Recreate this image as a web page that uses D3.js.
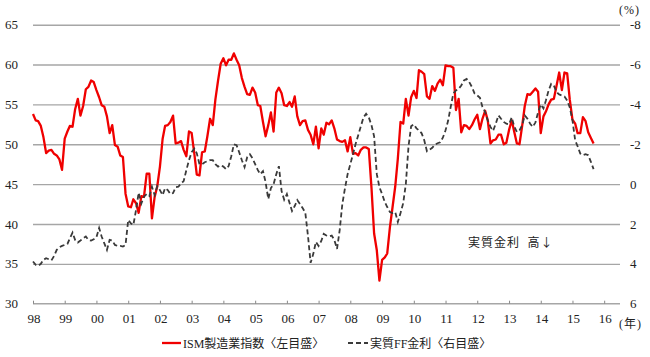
<!DOCTYPE html>
<html>
<head>
<meta charset="utf-8">
<script src="https://cdn.jsdelivr.net/npm/d3@7"></script>
<style>
  html, body { margin: 0; padding: 0; background: #fff; }
  svg { display: block; }
</style>
</head>
<body>
<svg id="chart" width="650" height="357"></svg>
<script>
// ---- data (monthly, Jan 1998 – Sep 2015) ----
const startYear = 1998;
const ismValues = [
  // 1998
  53.8, 53.0, 52.9, 52.3, 50.9, 48.9, 49.2, 49.3, 48.8, 48.6, 48.1, 46.8,
  // 1999
  50.7, 51.6, 52.3, 52.2, 54.4, 55.7, 53.6, 54.8, 56.9, 57.2, 58.0, 57.8,
  // 2000
  56.8, 55.9, 54.9, 54.7, 53.5, 51.4, 52.4, 49.9, 49.7, 48.6, 48.4, 43.8,
  // 2001
  42.2, 42.1, 43.1, 42.6, 41.4, 43.5, 43.4, 46.3, 46.3, 40.7, 43.4, 44.7,
  // 2002
  47.2, 50.7, 52.3, 52.4, 52.8, 53.6, 50.1, 50.2, 50.4, 49.3, 48.5, 51.6,
  // 2003
  51.4, 48.8, 46.2, 46.1, 49.0, 49.1, 51.0, 53.2, 52.4, 55.6, 58.0, 60.1,
  // 2004
  60.8, 59.9, 60.6, 60.6, 61.4, 60.6, 59.9, 58.3, 57.2, 56.3, 56.2, 57.1,
  // 2005
  56.5, 54.9, 54.8, 52.8, 51.0, 52.4, 54.0, 51.6, 56.5, 57.1, 56.4, 54.9,
  // 2006
  54.8, 55.3, 54.7, 56.0, 53.5, 52.4, 52.9, 53.0, 51.8, 51.2, 50.0, 52.2,
  // 2007
  49.5, 52.0, 51.2, 52.7, 52.5, 53.0, 52.0, 50.6, 50.4, 50.3, 50.5, 49.1,
  // 2008
  50.9, 48.8, 48.9, 48.6, 49.3, 49.6, 49.6, 49.4, 44.5, 38.8, 36.7, 32.9,
  // 2009
  35.5, 35.8, 36.3, 39.6, 42.1, 44.7, 48.2, 52.8, 52.6, 55.7, 53.6, 55.9,
  // 2010
  56.7, 55.8, 59.3, 59.1, 58.8, 56.0, 55.7, 57.3, 56.7, 57.6, 58.1, 57.4,
  // 2011
  59.9, 59.8, 59.8, 59.6, 54.3, 55.7, 51.5, 52.4, 52.3, 51.9, 52.4, 53.1,
  // 2012
  53.7, 51.9, 53.2, 54.2, 53.0, 50.1, 50.5, 50.6, 51.2, 51.2, 50.0, 50.2,
  // 2013
  51.8, 53.0, 51.6, 50.1, 50.0, 52.3, 54.8, 56.3, 56.2, 56.6, 57.0, 56.6,
  // 2014
  51.4, 53.5, 54.1, 55.0, 55.6, 55.7, 57.3, 59.0, 56.8, 59.0, 58.9, 55.6,
  // 2015
  53.1, 52.6, 51.4, 51.4, 53.4, 52.9, 51.5, 50.8, 50.1
];
const realFFValues = [
  // 1998
  3.88, 4.05, 4.10, 4.00, 3.80, 3.72, 3.77, 3.83, 3.60, 3.30, 3.17, 3.10,
  // 1999
  3.05, 3.00, 2.72, 2.43, 2.80, 2.93, 2.83, 2.72, 2.63, 2.80, 2.83, 2.77,
  // 2000
  2.67, 2.20, 2.63, 2.97, 3.30, 2.80, 2.83, 3.05, 3.10, 3.10, 3.13, 3.05,
  // 2001
  1.80, 1.97, 2.05, 1.30, 0.43, 0.97, 0.63, 0.50, 0.60, 0.13, 0.55, 0.10,
  // 2002
  0.30, 0.55, 0.20, 0.30, 0.50, 0.45, 0.15, 0.13, -0.03, -0.15, -0.70, -1.20,
  // 2003
  -1.60, -1.78, -1.55, -1.00, -1.00, -1.10, -1.15, -1.20, -1.20, -1.00, -0.88, -0.95,
  // 2004
  -0.88, -0.75, -0.90, -1.40, -2.00, -1.95, -1.60, -1.20, -0.85, -1.35, -1.50, -1.30,
  // 2005
  -1.00, -0.70, -0.50, -0.65, -0.10, 0.75, 0.20, 0.00, -0.50, -0.90, 0.35, 0.78,
  // 2006
  0.50, 0.95, 1.35, 1.10, 0.80, 1.00, 1.20, 1.43, 2.60, 3.95, 3.50, 2.90,
  // 2007
  3.10, 2.85, 2.50, 2.58, 2.62, 2.58, 2.80, 3.25, 2.30, 1.00, 0.20, -0.50,
  // 2008
  -1.00, -1.50, -2.00, -2.45, -2.90, -3.35, -3.53, -3.35, -2.95, -2.40, -0.50, 0.15,
  // 2009
  0.50, 0.90, 1.15, 1.40, 1.45, 1.40, 1.90, 1.45, 0.95, 0.00, -1.90, -2.90,
  // 2010
  -3.00, -2.80, -2.70, -2.55, -2.20, -1.65, -1.73, -1.82, -1.98, -2.05, -2.10, -2.33,
  // 2011
  -2.70, -3.20, -3.87, -4.55, -4.70, -4.78, -4.95, -5.20, -5.28, -5.12, -4.87, -4.55,
  // 2012
  -4.45, -4.33, -3.87, -3.62, -3.20, -2.87, -2.67, -3.03, -3.45, -3.28, -3.12, -3.03,
  // 2013
  -3.00, -3.35, -2.90, -2.62, -2.70, -2.95, -3.45, -3.28, -3.03, -2.87, -3.10, -3.60,
  // 2014
  -4.00, -3.80, -4.20, -4.70, -5.03, -4.95, -4.62, -4.50, -4.45, -4.40, -4.20, -3.85,
  // 2015
  -3.20, -2.20, -1.90, -1.53, -1.45, -1.50, -1.45, -1.12, -0.75
];
const yearLabels = ["98","99","00","01","02","03","04","05","06","07","08","09","10","11","12","13","14","15","16"];
const leftTicks = [30, 35, 40, 45, 50, 55, 60, 65];
const rightTicks = [6, 4, 2, 0, -2, -4, -6, -8];
const legendLabels = ["ISM製造業指数〈左目盛〉", "実質FF金利〈右目盛〉"];
const annotationText = "実質金利  高↓";

// ---- layout ----
const svg = d3.select("#chart");
const plotLeft = 33, plotRight = 620, plotTop = 24.7, plotBottom = 303.7;
const latinFont = "'Liberation Serif', 'Times New Roman', serif";
const cjkFont = "'Liberation Serif', 'Noto Sans CJK JP', sans-serif";

const x = d3.scaleTime()
  .domain([new Date(startYear, 0, 1), new Date(2016, 6, 1)])
  .range([plotLeft, plotRight]);
const yL = d3.scaleLinear().domain([30, 65]).range([plotBottom, plotTop]);
const yR = d3.scaleLinear().domain([6, -8]).range([plotBottom, plotTop]);

const ismData = ismValues.map((v, i) => ({ date: d3.timeMonth.offset(new Date(startYear, 0, 1), i), v }));
const ffData = realFFValues.map((v, i) => ({ date: d3.timeMonth.offset(new Date(startYear, 0, 1), i), v }));
const yearDates = yearLabels.map((s, i) => new Date(startYear + i, 0, 1));

// gridlines (left axis)
svg.append("g")
  .attr("transform", `translate(${plotLeft},0)`)
  .call(d3.axisLeft(yL).tickValues(leftTicks.filter(t => t !== 30)).tickSize(-(plotRight - plotLeft)).tickFormat(""))
  .call(g => g.select(".domain").remove())
  .call(g => g.selectAll("line").attr("stroke", "#a6a6a6").attr("stroke-width", 1.4));

// left labels
svg.append("g").selectAll("text").data(leftTicks).join("text")
  .attr("x", 18).attr("y", d => yL(d)).attr("dy", "0.35em")
  .attr("text-anchor", "end")
  .attr("font-family", latinFont).attr("font-size", 13).attr("fill", "#222")
  .text(d => d);

// right labels
svg.append("g").selectAll("text").data(rightTicks).join("text")
  .attr("x", 630).attr("y", d => yR(d)).attr("dy", "0.35em")
  .attr("text-anchor", "start")
  .attr("font-family", latinFont).attr("font-size", 13).attr("fill", "#222")
  .text(d => String(d));

// bottom axis
const xAxis = svg.append("g")
  .attr("transform", `translate(0,${plotBottom})`)
  .call(d3.axisTop(x).tickValues(yearDates).tickSize(3).tickFormat(""));
xAxis.select(".domain").attr("stroke", "#a6a6a6").attr("stroke-width", 1.4)
  .attr("d", `M${plotLeft},0H${plotRight}`);
xAxis.selectAll(".tick line").attr("stroke", "#888").attr("stroke-width", 1);

svg.append("g").selectAll("text").data(yearLabels).join("text")
  .attr("x", (d, i) => x(yearDates[i]) + 1).attr("y", 323)
  .attr("text-anchor", "middle")
  .attr("font-family", latinFont).attr("font-size", 13).attr("fill", "#222")
  .text(d => d);

// unit labels
svg.append("text").attr("x", 619).attr("y", 14)
  .attr("font-family", cjkFont).attr("font-size", 12).attr("fill", "#222")
  .attr("letter-spacing", 1)
  .text("(%)");
svg.append("text").attr("x", 619).attr("y", 328)
  .attr("font-family", cjkFont).attr("font-size", 12).attr("fill", "#222")
  .attr("letter-spacing", 1)
  .text("(年)");

// lines
const ismLine = d3.line().x(d => x(d.date)).y(d => yL(d.v));
const ffLine = d3.line().x(d => x(d.date)).y(d => yR(d.v));

svg.append("path").datum(ismData)
  .attr("d", ismLine).attr("fill", "none")
  .attr("stroke", "#f00000").attr("stroke-width", 2.3).attr("stroke-linejoin", "round");

svg.append("path").datum(ffData)
  .attr("d", ffLine).attr("fill", "none")
  .attr("stroke", "#3a3a3a").attr("stroke-width", 1.8).attr("stroke-dasharray", "5,3");

// annotation
svg.append("text").attr("x", 468).attr("y", 247)
  .attr("font-family", "'Noto Sans CJK JP', sans-serif").attr("font-size", 12)
  .attr("letter-spacing", 1).attr("fill", "#222")
  .attr("xml:space", "preserve").style("white-space", "pre")
  .text(annotationText);

// legend
const legendY = 343;
svg.append("line").attr("x1", 162).attr("x2", 181).attr("y1", legendY).attr("y2", legendY)
  .attr("stroke", "#f00000").attr("stroke-width", 2.3);
svg.append("text").attr("x", 183).attr("y", legendY + 4.5)
  .attr("font-family", cjkFont).attr("font-size", 12).attr("fill", "#222")
  .text(legendLabels[0]);
svg.append("line").attr("x1", 348).attr("x2", 368).attr("y1", legendY).attr("y2", legendY)
  .attr("stroke", "#3a3a3a").attr("stroke-width", 1.8).attr("stroke-dasharray", "5,3");
svg.append("text").attr("x", 370).attr("y", legendY + 4.5)
  .attr("font-family", cjkFont).attr("font-size", 12).attr("fill", "#222")
  .text(legendLabels[1]);
</script>
</body>
</html>
